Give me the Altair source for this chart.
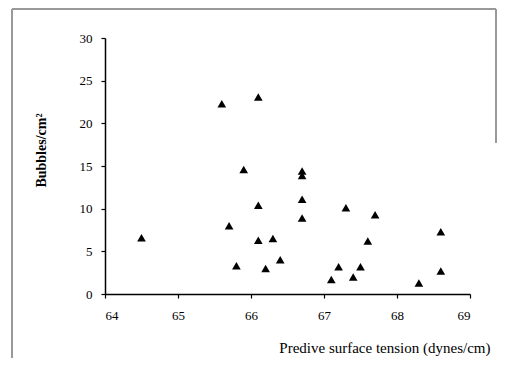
import altair as alt
import pandas as pd

tension = [64.5, 65.6, 66.1, 65.9, 66.1, 65.7, 66.1, 66.3, 65.8, 66.2, 66.4,
           66.7, 66.7, 66.7, 66.7, 67.3, 67.7, 67.6, 67.2, 67.5, 67.1, 67.4,
           68.3, 68.6, 68.6]
bubbles = [6.6, 22.3, 23.1, 14.6, 10.4, 8.0, 6.3, 6.5, 3.3, 3.0, 4.0,
           14.4, 13.9, 11.1, 8.9, 10.1, 9.3, 6.2, 3.2, 3.2, 1.7, 2.0,
           1.3, 7.3, 2.7]

df = pd.DataFrame({"t": tension, "b": bubbles})

font = "Liberation Serif"

points = alt.Chart(df).mark_point(
    shape="triangle-up", filled=True, color="black", size=75, opacity=1
).encode(
    x=alt.X("t:Q", scale=alt.Scale(domain=[64, 69], nice=False, zero=False),
            axis=alt.Axis(values=[64, 65, 66, 67, 68, 69], grid=False,
                          title="Predive surface tension (dynes/cm)",
                          titleAnchor="end", titleAlign="right", titleX=385, titleY=46,
                          titleBaseline="top", titleFontWeight="normal", titleFontSize=15,
                          labelPadding=11)),
    y=alt.Y("b:Q", scale=alt.Scale(domain=[0, 30], nice=False),
            axis=alt.Axis(values=[0, 5, 10, 15, 20, 25, 30], grid=False,
                          title="Bubbles/cm²", titleX=-57, titleY=112,
                          titleFontWeight="bold", titleFontSize=14,
                          labelPadding=9)),
)

frame_style = dict(color="#999999", strokeWidth=1)
top_line = alt.Chart(df).mark_rule(**frame_style).encode(
    x=alt.value(-93), x2=alt.value(391), y=alt.value(-29))
left_line = alt.Chart(df).mark_rule(**frame_style).encode(
    x=alt.value(-93), y=alt.value(-29), y2=alt.value(320))
right_line = alt.Chart(df).mark_rule(**frame_style).encode(
    x=alt.value(391), y=alt.value(-29), y2=alt.value(105))

chart = alt.layer(top_line, left_line, right_line, points).properties(
    width=365, height=256,
    padding={"left": 97, "top": 30, "right": 27, "bottom": 68},
    autosize=alt.AutoSizeParams(type="none"),
).configure_view(stroke=None).configure_axis(
    domainColor="black", domainWidth=1.5, tickColor="black", tickSize=4,
    tickWidth=1.2, labelFont=font, labelFontSize=13, labelColor="black",
    titleFont=font, titleColor="black",
)

chart.save("out.html", embed_options={"renderer": "svg", "actions": False})
